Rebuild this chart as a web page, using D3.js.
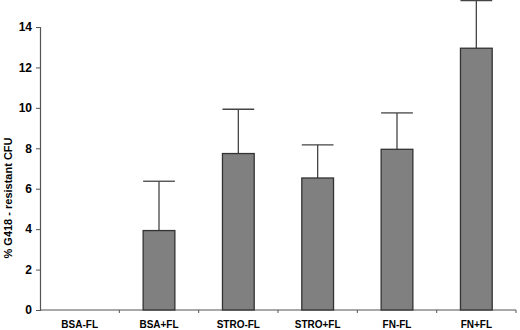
<!DOCTYPE html>
<html>
<head>
<meta charset="utf-8">
<script src="https://cdn.jsdelivr.net/npm/d3@7"></script>
<style>
  body { margin: 0; background: #fff; }
  text { font-family: "Liberation Sans", Arial, sans-serif; font-weight: bold; fill: #000; }
</style>
</head>
<body>
<svg id="chart" width="520" height="330"></svg>
<script>
// values
var categories = ["BSA-FL", "BSA+FL", "STRO-FL", "STRO+FL", "FN-FL", "FN+FL"];
var means = [0, 3.93, 7.74, 6.53, 7.95, 12.95];
var errTops = [0, 6.37, 9.93, 8.17, 9.75, 15.3];
var yTicks = [0, 2, 4, 6, 8, 10, 12, 14];

var margin = { top: 27, left: 40, bottom: 20, right: 4 };
var width = 520, height = 330;

var svg = d3.select("#chart");

var x = d3.scaleBand()
          .domain(categories)
          .range([margin.left, 516])
          .paddingInner(0)
          .paddingOuter(0);

var y = d3.scaleLinear()
          .domain([0, 14])
          .range([310, margin.top]);

var bw = x.bandwidth() * 0.4;

// y axis
var yAxis = svg.append("g")
               .attr("transform", "translate(" + margin.left + ",0)")
               .call(d3.axisLeft(y).tickValues(yTicks).tickSize(4).tickPadding(4));
yAxis.select(".domain").attr("stroke", "#555").attr("stroke-width", 1.2);
yAxis.selectAll(".tick line").attr("stroke", "#555");
yAxis.selectAll("text").style("font-size", "12px").style("font-family", "Liberation Sans, Arial, sans-serif").style("font-weight", "bold");

// x axis: ticks sit between categories
var xAxis = svg.append("g")
               .attr("transform", "translate(0,310)");
xAxis.append("line")
     .attr("x1", margin.left).attr("x2", 516)
     .attr("y1", 0).attr("y2", 0)
     .attr("stroke", "#555").attr("stroke-width", 1.2);
xAxis.selectAll("line.tk")
     .data(categories)
     .enter()
     .append("line")
     .attr("class", "tk")
     .attr("x1", function(d) { return x(d) + x.bandwidth(); })
     .attr("x2", function(d) { return x(d) + x.bandwidth(); })
     .attr("y1", 0).attr("y2", 3)
     .attr("stroke", "#555");
xAxis.selectAll("text")
     .data(categories)
     .enter()
     .append("text")
     .attr("x", function(d) { return x(d) + x.bandwidth() / 2; })
     .attr("y", 18)
     .attr("text-anchor", "middle")
     .style("font-size", "10px")
     .text(function(d) { return d; });

// error bars (upper only)
var eb = svg.append("g");
categories.forEach(function(c, i) {
    if (errTops[i] <= means[i]) return;
    var cx = x(c) + x.bandwidth() / 2;
    eb.append("line")
      .attr("x1", cx).attr("x2", cx)
      .attr("y1", y(means[i])).attr("y2", y(errTops[i]))
      .attr("stroke", "#444").attr("stroke-width", 1.3);
    eb.append("line")
      .attr("x1", cx - bw / 2).attr("x2", cx + bw / 2)
      .attr("y1", y(errTops[i])).attr("y2", y(errTops[i]))
      .attr("stroke", "#444").attr("stroke-width", 1.3);
});

// bars
svg.append("g")
   .selectAll("rect")
   .data(categories)
   .enter()
   .append("rect")
   .attr("x", function(d) { return x(d) + (x.bandwidth() - bw) / 2; })
   .attr("y", function(d, i) { return y(means[i]); })
   .attr("width", bw)
   .attr("height", function(d, i) { return y(0) - y(means[i]); })
   .attr("fill", "#808080")
   .attr("stroke", "#333")
   .attr("stroke-width", function(d, i) { return means[i] > 0 ? 1.3 : 0; });

// y title
svg.append("text")
   .attr("transform", "translate(12,198) rotate(-90)")
   .attr("text-anchor", "middle")
   .style("font-size", "11px")
   .text("% G418 - resistant CFU");
</script>
</body>
</html>
